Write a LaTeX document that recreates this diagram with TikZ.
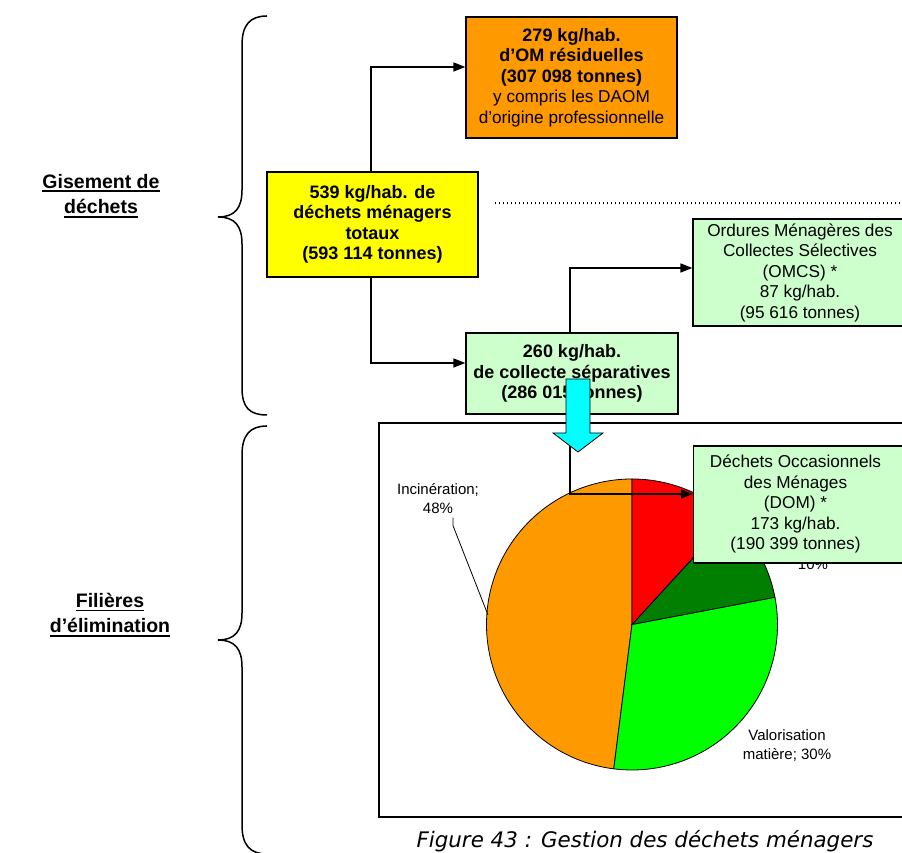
\documentclass[tikz,border=0pt]{standalone}
\usepackage{fontspec}
\setmainfont{Liberation Sans}
\newfontfamily\widefont{DejaVu Sans}
\usetikzlibrary{arrows.meta}

\definecolor{omorange}{HTML}{FF9900}
\definecolor{totyellow}{HTML}{FFFF00}
\definecolor{selgreen}{HTML}{CCFFCC}
\definecolor{arrowcyan}{HTML}{00FFFF}
\definecolor{piered}{HTML}{FF0000}
\definecolor{piedkgreen}{HTML}{007F00}
\definecolor{piegreen}{HTML}{00FF00}

% underlined heading line
\newcommand{\hdline}[1]{\vtop{\hbox{#1}\kern2pt\hrule height 1.8pt}}
% bold line inside a box
\newcommand{\bl}[1]{{\fontsize{18}{20}\selectfont\bfseries #1}}

\begin{document}
\begin{tikzpicture}[x=1pt, y=1pt,
    infobox/.style={draw, line width=1.2pt, align=center, inner sep=2pt,
      font=\fontsize{17.2}{20.5}\selectfont},
    flow/.style={line width=1.5pt, -{Triangle[length=12pt, width=9pt]}},
    slice/.style={draw, line width=0.8pt},
    pielabel/.style={align=center, font=\fontsize{15}{19}\selectfont},
    heading/.style={align=center, font=\bfseries\fontsize{19.5}{25.5}\selectfont}]
        \useasboundingbox (0,0) rectangle (902,853);
        \clip (0,0) rectangle (902,853);

        % Pie centre and radius
        \coordinate (pc) at (632,228.5);
        \def\pr{145.5}

        % Chart frame
        \draw[line width=1.2pt] (379,430) rectangle (920,36);

        % Pie slices
        \filldraw[slice, fill=omorange] (pc) -- ++(90:\pr) arc[start angle=90, end angle=262.8, radius=\pr] -- cycle;
        \filldraw[slice, fill=piegreen] (pc) -- ++(262.8:\pr) arc[start angle=262.8, end angle=370.8, radius=\pr] -- cycle;
        \filldraw[slice, fill=piedkgreen] (pc) -- ++(10.8:\pr) arc[start angle=10.8, end angle=47.5, radius=\pr] -- cycle;
        \filldraw[slice, fill=piered] (pc) -- ++(47.5:\pr) arc[start angle=47.5, end angle=90, radius=\pr] -- cycle;

        % Pie labels
        \node[pielabel] (incin) at (438,354) {Incinération;\\48\%};
        \node[pielabel] (valor) at (787,107) {Valorisation\\matière; 30\%};
        \node[pielabel] (dixpc) at (813,289) {10\%};
        \draw[line width=0.8pt] ([xshift=15pt]incin.south) -- ++(0,-8) -- (488,238);

        % Side headings and braces
        \node[heading] (gis) at (101,657) {\hdline{Gisement de}\\\hdline{déchets}};
        \node[heading] (fil) at (110,238) {\hdline{Filières}\\\hdline{d’élimination}};
        \draw[line width=1.5pt] (267,837) .. controls (250,837) and (242,828) .. (242,808) -- (242,663)
            .. controls (242,645) and (235,636) .. (218,636) .. controls (235,636) and (242,627) .. (242,609)
            -- (242,465) .. controls (242,445) and (250,438) .. (267,438);
        \draw[line width=1.5pt] (267,427) .. controls (250,427) and (242,418) .. (242,398) -- (242,240)
            .. controls (242,222) and (235,213) .. (218,213) .. controls (235,213) and (242,204) .. (242,186)
            -- (242,28) .. controls (242,8) and (250,-1) .. (267,-1);

        % Dotted separation
        \draw[line width=1.4pt, dash pattern=on 1.4pt off 2.6pt] (495,650) -- (902,650);

        % Boxes
        \node[infobox, fill=totyellow, minimum width=211pt, minimum height=105pt] (total) at (372.5,628.5)
            {\bl{539 kg/hab. de}\\\bl{déchets ménagers}\\\bl{totaux}\\\bl{(593 114 tonnes)}};
        \node[infobox, fill=omorange, minimum width=211pt, minimum height=121pt] (omr) at (571.5,775.5)
            {\bl{279 kg/hab.}\\\bl{d’OM résiduelles}\\\bl{(307 098 tonnes)}\\y compris les DAOM\\d’origine professionnelle};
        \node[infobox, fill=selgreen, minimum width=212pt, minimum height=81pt] (sep) at (572,479.5)
            {\bl{260 kg/hab.}\\\bl{de collecte séparatives}\\\bl{(286 015 tonnes)}};
        \node[infobox, fill=selgreen, minimum width=214pt, minimum height=107pt] (omcs) at (800,580.5)
            {Ordures Ménagères des\\Collectes Sélectives\\(OMCS) *\\87 kg/hab.\\(95 616 tonnes)};
        \node[infobox, fill=selgreen, minimum width=225pt, minimum height=117pt, anchor=west] (dom) at (693,348.5) {};
        \node[align=center, font=\fontsize{17.2}{20.5}\selectfont] (domtext) at (795.5,349)
            {Déchets Occasionnels\\des Ménages\\(DOM) *\\173 kg/hab.\\(190 399 tonnes)};

        % Connectors
        \draw[flow] ([xshift=-1.5pt]total.north) |- ([yshift=10.5pt]omr.west);
        \draw[flow] ([xshift=-1.5pt]total.south) |- ([yshift=10.5pt]sep.west);
        \draw[flow] ([xshift=-2pt]sep.north) |- ([yshift=4.5pt]omcs.west);
        \draw[flow] ([xshift=-2pt]sep.south) |- ([yshift=10.5pt]dom.west);

        % Cyan arrow
        \filldraw[fill=arrowcyan, line width=0.8pt] (566,474) -- (590,474) -- (590,420) -- (603,420)
            -- (578,401) -- (553,420) -- (566,420) -- cycle;

        % Caption
        \node[font=\widefont\itshape\fontsize{21.4}{25}\selectfont] (caption) at (645,12) {Figure 43 : Gestion des déchets ménagers};
\end{tikzpicture}
\end{document}
